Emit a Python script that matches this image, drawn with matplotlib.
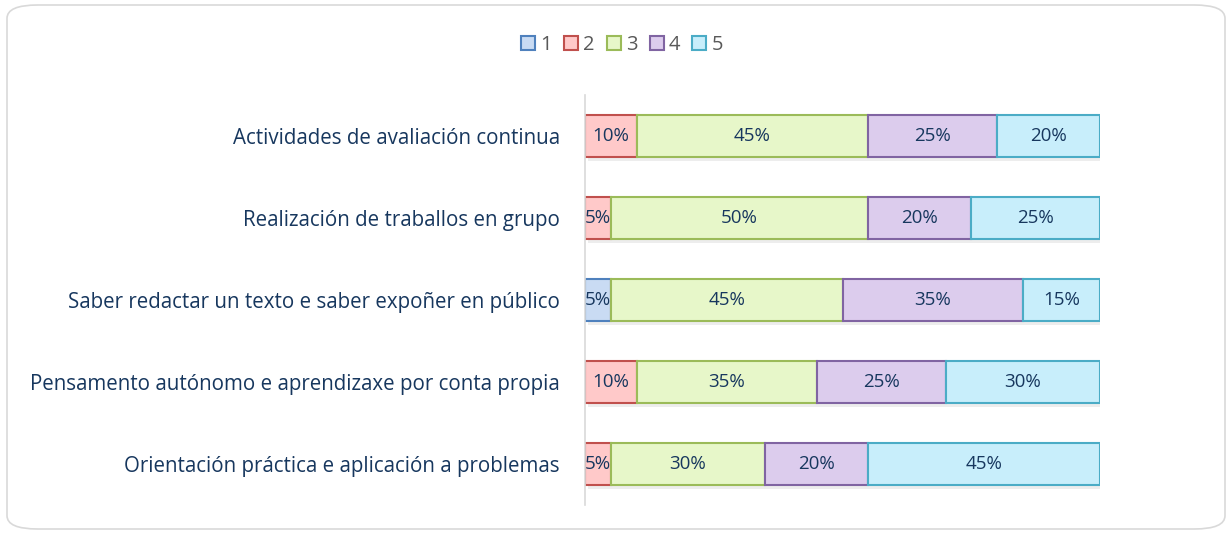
import numpy as np
import matplotlib.pyplot as plt
from matplotlib.patches import FancyBboxPatch

# datos (de arriba abajo)
categorias = ["Actividades de avaliación continua",
              "Realización de traballos en grupo",
              "Saber redactar un texto e saber expoñer en público",
              "Pensamento autónomo e aprendizaxe por conta propia",
              "Orientación práctica e aplicación a problemas"]
series = ["1", "2", "3", "4", "5"]
v1 = [0, 0, 5, 0, 0]
v2 = [10, 5, 0, 10, 5]
v3 = [45, 50, 45, 35, 30]
v4 = [25, 20, 35, 25, 20]
v5 = [20, 25, 15, 30, 45]
valores = [v1, v2, v3, v4, v5]

rellenos = ["#c9dbf3", "#ffc9c9", "#e7f7c9", "#dccced", "#c8eefb"]
bordes = ["#4f81bd", "#c0504d", "#9bbb59", "#8064a2", "#4bacc6"]
azul = "#17375e"

plt.rcParams['font.family'] = ['Open Sans', 'DejaVu Sans']

fig = plt.figure(figsize=(12.32, 5.34), dpi=100)
borde = FancyBboxPatch((7 / 1232, 5 / 534), 1218 / 1232, 524 / 534,
                       boxstyle="round,pad=0,rounding_size=0.025",
                       transform=fig.transFigure, fc="white", ec="#d9d9d9", lw=1.2,
                       zorder=-10)
fig.patches.append(borde)

ax = fig.add_axes([585 / 1232, 29 / 534, 515 / 1232, 410 / 534])
ax.patch.set_alpha(0)
y = np.arange(len(categorias))[::-1]
izq = np.zeros(len(categorias))
h = 0.51
for i, vals in enumerate(valores):
    vals = np.array(vals, dtype=float)
    # sombra
    ax.barh(y - 0.05, vals, left=izq + 0.6, height=h, color="#000000", alpha=0.07,
            lw=0, zorder=1)
    ax.barh(y, vals, left=izq, height=h, color=rellenos[i], edgecolor=bordes[i],
            lw=1.5, zorder=2, label=series[i])
    for yy, l, v in zip(y, izq, vals):
        if v > 0:
            ax.text(l + v / 2, yy, f"{int(v)}%", ha="center", va="center",
                    fontsize=13.5, color=azul, zorder=3)
    izq += vals

ax.set_xlim(0, 100)
ax.set_ylim(-0.5, 4.5)
ax.set_yticks(y)
ax.set_yticklabels(categorias, fontsize=14.8, color=azul)
ax.tick_params(axis="y", length=0, pad=18)
ax.set_xticks([])
for s in ["top", "right", "bottom"]:
    ax.spines[s].set_visible(False)
ax.spines["left"].set_color("#d9d9d9")
ax.spines["left"].set_linewidth(1.2)

leg = fig.legend(loc="center", bbox_to_anchor=(622 / 1232, 1 - 45 / 534), ncol=5,
                 frameon=False, fontsize=14.5, handlelength=0.7, handleheight=0.7,
                 handletextpad=0.25, columnspacing=0.6)
for t in leg.get_texts():
    t.set_color("#595959")

fig.savefig("out.png", dpi=100)
